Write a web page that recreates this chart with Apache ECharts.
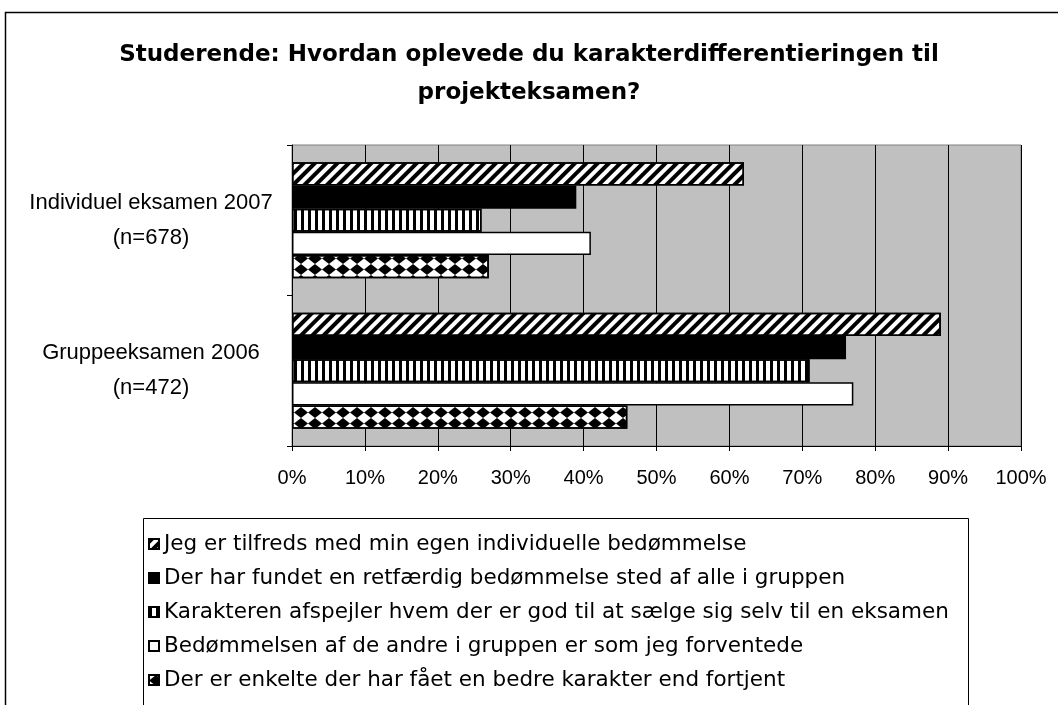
<!DOCTYPE html>
<html>
<head>
<meta charset="utf-8">
<script src="https://cdn.jsdelivr.net/npm/echarts@6/dist/echarts.min.js"></script>
<style>
  html, body { margin: 0; padding: 0; background: #fff; }
  #chart { width: 1058px; height: 705px; }
</style>
</head>
<body>
<div id="chart"></div>
<script>
// data
const categories = ['Individuel eksamen 2007\n(n=678)', 'Gruppeeksamen 2006\n(n=472)'];
const seriesNames = [
  'Jeg er tilfreds med min egen individuelle bedømmelse',
  'Der har fundet en retfærdig bedømmelse sted af alle i gruppen',
  'Karakteren afspejler hvem der er god til at sælge sig selv til en eksamen',
  'Bedømmelsen af de andre i gruppen er som jeg forventede',
  'Der er enkelte der har fået en bedre karakter end fortjent'
];
const tilfreds = [62, 89];
const retfaerdig = [39, 76];
const saelge = [26, 71];
const forventede = [41, 77];
const bedre = [27, 46];
const xTicks = [0, 10, 20, 30, 40, 50, 60, 70, 80, 90, 100];

const font = 'Liberation Sans, Arial, sans-serif';
const wideFont = 'DejaVu Sans, Verdana, sans-serif';

// bar fills (patterns as decals)
const styles = [
  { color: '#fff', decal: { symbol: 'rect', symbolSize: 1, dashArrayX: [1, 0], dashArrayY: [3.5, 3.5], rotation: -Math.PI / 4, color: '#000' } },
  { color: '#000' },
  { color: '#fff', decal: { symbol: 'rect', symbolSize: 1, dashArrayX: [3, 4], dashArrayY: [1, 0], color: '#000' } },
  { color: '#fff' },
  { color: '#fff', decal: { symbol: 'diamond', symbolSize: 1, dashArrayX: [14, 0], dashArrayY: [11, 0], color: '#000' } }
];
const values = [tilfreds, retfaerdig, saelge, forventede, bedre];

let myChart = echarts.init(document.getElementById('chart'), null, { renderer: 'canvas' });
let option;

option = {
  backgroundColor: '#fff',
  animation: false,
  title: {
    text: 'Studerende: Hvordan oplevede du karakterdifferentieringen til\nprojekteksamen?',
    left: 'center',
    top: 31,
    textStyle: { fontFamily: wideFont, fontSize: 23, fontWeight: 'bold', color: '#000', lineHeight: 38 }
  },
  graphic: [
    {
      type: 'rect', z: -10,
      shape: { x: 5.5, y: 12.5, width: 1200, height: 900 },
      style: { fill: '#fff', stroke: '#000', lineWidth: 1.5 }
    },
    {
      type: 'rect', z: -5,
      shape: { x: 143.5, y: 518.5, width: 825, height: 300 },
      style: { fill: '#fff', stroke: '#000', lineWidth: 1 }
    }
  ],
  legend: {
    orient: 'vertical',
    left: 148,
    top: 533,
    padding: 0,
    itemGap: 12,
    itemWidth: 10,
    itemHeight: 10,
    icon: 'rect',
    selectedMode: false,
    data: seriesNames,
    textStyle: { fontFamily: wideFont, fontSize: 21.5, color: '#000', lineHeight: 22 }
  },
  grid: {
    left: 292, right: 37, top: 145, bottom: 259,
    show: true, backgroundColor: '#c0c0c0', borderColor: '#808080', borderWidth: 1
  },
  xAxis: {
    type: 'value',
    min: xTicks[0], max: xTicks[xTicks.length - 1], interval: 10,
    axisLine: { show: true, lineStyle: { color: '#000', width: 1 } },
    axisTick: { show: true, length: 5, lineStyle: { color: '#000' } },
    splitLine: { show: true, lineStyle: { color: '#000', width: 1 } },
    axisLabel: { formatter: '{value}%', margin: 22, fontFamily: font, fontSize: 20, color: '#000' }
  },
  yAxis: {
    type: 'category',
    inverse: true,
    data: categories,
    axisLine: { show: true, lineStyle: { color: '#000', width: 1 } },
    axisTick: { show: true, length: 5, lineStyle: { color: '#000' } },
    axisLabel: { align: 'center', margin: 141, fontFamily: font, fontSize: 22, lineHeight: 35, color: '#000' }
  },
  series: seriesNames.map((name, i) => ({
    name: name,
    type: 'bar',
    data: values[i],
    barGap: '0%',
    barCategoryGap: '23%',
    itemStyle: Object.assign({ borderColor: '#000', borderWidth: 1.5 }, styles[i])
  }))
};

option && myChart.setOption(option);
</script>
</body>
</html>
